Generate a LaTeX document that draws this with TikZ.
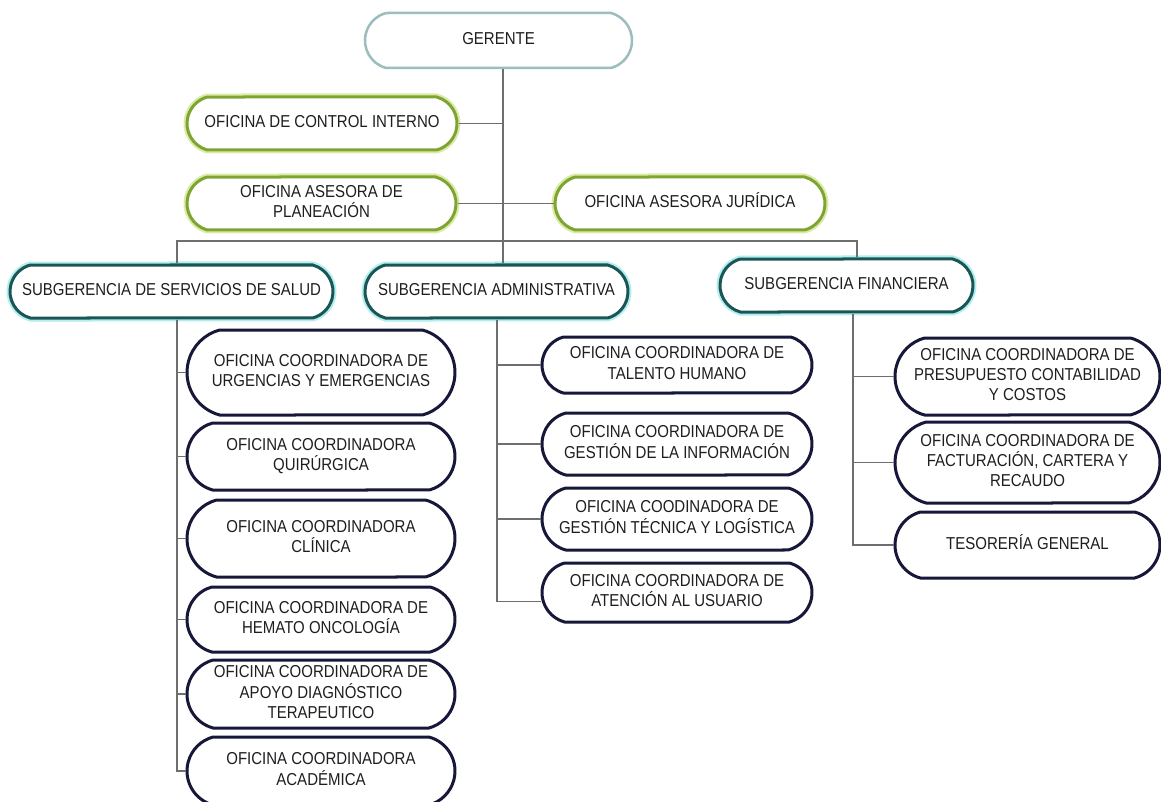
\documentclass[tikz,border=0pt]{standalone}
\usepackage{fontspec}
\setmainfont{Liberation Sans}
\usetikzlibrary{shapes.misc}
\definecolor{gerc}{HTML}{9CBDBD}
\definecolor{grn}{HTML}{7EA532}
\definecolor{grnglow}{HTML}{DCEBA8}
\definecolor{teal}{HTML}{1B5656}
\definecolor{tealglow}{HTML}{B2EEEE}
\definecolor{navy}{HTML}{17173A}
\definecolor{conncol}{HTML}{6E6E6E}
\definecolor{txt}{HTML}{1E1E1E}
\newcommand\bt[1]{\scalebox{1}[1.15]{\begin{tabular}{@{}c@{}}#1\end{tabular}}}
\tikzset{
  base/.style={rounded rectangle, rounded rectangle arc length=150, inner sep=0pt,
    font=\fontsize{15}{17.4}\selectfont, text=txt, fill=white},
  gerbox/.style={base, draw=gerc, line width=2.5pt},
  greenbox/.style={base, draw=grn, line width=3pt, preaction={draw=grnglow, line width=7pt}},
  subbox/.style={base, draw=teal, line width=3pt, preaction={draw=tealglow, line width=7pt}},
  offbox/.style={base, draw=navy, line width=3pt},
  conn/.style={draw=conncol, line width=1.6pt}
}
\begin{document}
\begin{tikzpicture}[x=1pt,y=-1pt]
\useasboundingbox (0,0) rectangle (1161,802);
\fill[white] (0,0) rectangle (1161,802);

% top level
\node[gerbox, minimum width=267, minimum height=55] (ger) at (498.5,40.5) {\bt{GERENTE}};
\node[greenbox, minimum width=270, minimum height=53] (ci) at (322,123.5) {\bt{OFICINA DE CONTROL INTERNO}};
\node[greenbox, minimum width=269, minimum height=53] (pl) at (321.5,203.5) {\bt{OFICINA ASESORA DE\\PLANEACIÓN}};
\node[greenbox, minimum width=270, minimum height=53] (ju) at (690,203.5) {\bt{OFICINA ASESORA JURÍDICA}};

% subgerencias
\node[subbox, minimum width=323, minimum height=53] (ss) at (171.5,291.5) {\bt{SUBGERENCIA DE SERVICIOS DE SALUD}};
\node[subbox, minimum width=263, minimum height=53] (sa) at (496.5,291.5) {\bt{SUBGERENCIA ADMINISTRATIVA}};
\node[subbox, minimum width=253, minimum height=53] (sf) at (846.5,285.5) {\bt{SUBGERENCIA FINANCIERA}};

% salud
\node[offbox, minimum width=268, minimum height=85] (s1) at (321,372.5) {\bt{OFICINA COORDINADORA DE\\URGENCIAS Y EMERGENCIAS}};
\node[offbox, minimum width=268, minimum height=67] (s2) at (321,456.5) {\bt{OFICINA COORDINADORA\\QUIRÚRGICA}};
\node[offbox, minimum width=268, minimum height=77] (s3) at (321,538.5) {\bt{OFICINA COORDINADORA\\CLÍNICA}};
\node[offbox, minimum width=268, minimum height=65] (s4) at (321,619.5) {\bt{OFICINA COORDINADORA DE\\HEMATO ONCOLOGÍA}};
\node[offbox, minimum width=268, minimum height=68] (s5) at (321,694) {\bt{OFICINA COORDINADORA DE\\APOYO DIAGNÓSTICO\\TERAPEUTICO}};
\node[offbox, minimum width=268, minimum height=68] (s6) at (321,771) {\bt{OFICINA COORDINADORA\\ACADÉMICA}};

% administrativa
\node[offbox, minimum width=270, minimum height=56] (a1) at (677,365) {\bt{OFICINA COORDINADORA DE\\TALENTO HUMANO}};
\node[offbox, minimum width=270, minimum height=62] (a2) at (677,444) {\bt{OFICINA COORDINADORA DE\\GESTIÓN DE LA INFORMACIÓN}};
\node[offbox, minimum width=270, minimum height=62] (a3) at (677,519) {\bt{OFICINA COODINADORA DE\\GESTIÓN TÉCNICA Y LOGÍSTICA}};
\node[offbox, minimum width=270, minimum height=59] (a4) at (677,592.5) {\bt{OFICINA COORDINADORA DE\\ATENCIÓN AL USUARIO}};

% financiera
\node[offbox, minimum width=265, minimum height=77] (f1) at (1027.5,376.5) {\bt{OFICINA COORDINADORA DE\\PRESUPUESTO CONTABILIDAD\\Y COSTOS}};
\node[offbox, minimum width=265, minimum height=81] (f2) at (1027.5,462.5) {\bt{OFICINA COORDINADORA DE\\FACTURACIÓN, CARTERA Y\\RECAUDO}};
\node[offbox, minimum width=265, minimum height=66] (f3) at (1027.5,545) {\bt{TESORERÍA GENERAL}};

% junction coordinates
\coordinate (j) at (503,241);
\coordinate (jl) at (177,241);
\coordinate (jr) at (857,241);
\coordinate (ja) at (497,0);
\coordinate (jf) at (853,0);

% connectors
\begin{scope}[on background layer/.style={}]
\draw[conn] (ger.south -| j) -- (sa.north -| j);
\draw[conn] (ci.east) -- (ci.east -| j);
\draw[conn] (pl.east) -- (ju.west);
\draw[conn] (ss.north -| jl) |- (jr) -- (sf.north -| jr);
\foreach \c in {s1,s2,s3,s4,s5,s6} \draw[conn] (ss.south -| jl) |- (\c.west);
\foreach \c in {a1,a2,a3} \draw[conn] (sa.south -| ja) |- (\c.west);
\draw[conn] (sa.south -| ja) |- ([yshift=-9pt]a4.west);
\foreach \c in {f1,f2,f3} \draw[conn] (sf.south -| jf) |- (\c.west);
\end{scope}
\end{tikzpicture}
\end{document}
